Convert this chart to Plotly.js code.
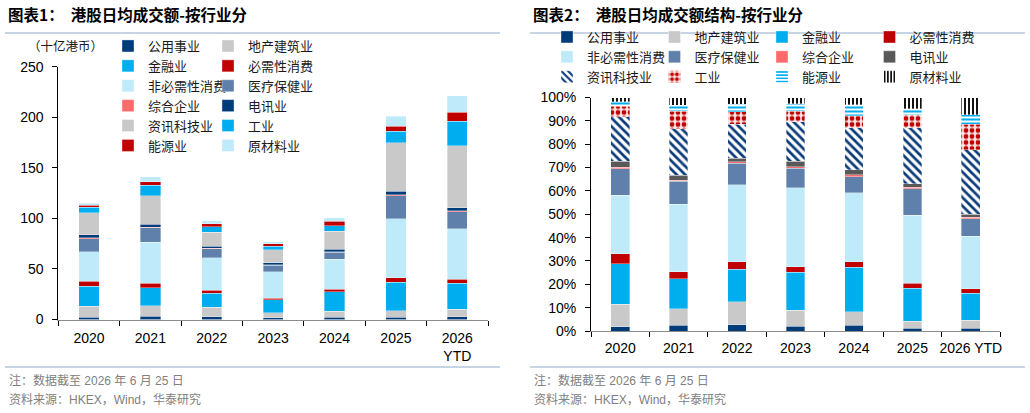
<!DOCTYPE html>
<html>
<head>
<meta charset="utf-8">
<script src="https://cdn.plot.ly/plotly-3.0.1.min.js"></script>
<style>
  html, body { margin: 0; padding: 0; background: #fff; }
  #wrap { position: relative; width: 1030px; height: 413px; overflow: hidden; }
  #left { position: absolute; left: 0; top: 0; width: 515px; height: 413px; }
  #right { position: absolute; left: 515px; top: 0; width: 515px; height: 413px; }
</style>
</head>
<body>
<div id="wrap"><div id="left"></div><div id="right"></div></div>
<script>
// Hong Kong equities: average daily turnover by sector (HKD bn)
const yearsLeft = ['2020', '2021', '2022', '2023', '2024', '2025', '2026<br>YTD'];
const yearsRight = ['2020', '2021', '2022', '2023', '2024', '2025', '2026 YTD'];

const sectorNames = ['公用事业', '地产建筑业', '金融业', '必需性消费', '非必需性消费', '医疗保健业',
                     '综合企业', '电讯业', '资讯科技业', '工业', '能源业', '原材料业'];

const utilities         = [2.0, 3.4, 2.6, 1.6, 2.4, 2.3, 2.7];
const property          = [11.2, 10.1, 9.6, 5.2, 5.8, 6.3, 7.5];
const financials        = [19.9, 18.0, 13.6, 12.6, 19.2, 28.0, 25.8];
const consumerStaples   = [4.9, 4.3, 3.2, 1.8, 2.4, 4.6, 3.9];
const consumerDiscret   = [29.0, 40.7, 32.1, 26.0, 29.6, 58.4, 49.7];
const healthcare        = [12.9, 14.0, 9.0, 6.4, 7.1, 22.7, 16.8];
const conglomerates     = [0.9, 0.7, 0.6, 0.5, 0.7, 1.2, 1.3];
const telecom           = [2.8, 2.9, 1.5, 1.9, 2.3, 3.1, 2.9];
const infoTech          = [22.0, 28.3, 14.2, 13.0, 18.0, 48.1, 61.1];
const industrials       = [5.3, 10.6, 5.3, 3.4, 5.2, 11.3, 24.2];
const energy            = [2.0, 3.4, 3.0, 2.6, 4.6, 5.2, 8.9];
const materials         = [2.2, 4.8, 2.9, 2.0, 3.2, 9.7, 16.4];

const seriesValues = [utilities, property, financials, consumerStaples, consumerDiscret, healthcare,
                      conglomerates, telecom, infoTech, industrials, energy, materials];

const leftTicks = [0, 50, 100, 150, 200, 250];
const rightTicks = [0, 10, 20, 30, 40, 50, 60, 70, 80, 90, 100];
const rightTickText = ['0%', '10%', '20%', '30%', '40%', '50%', '60%', '70%', '80%', '90%', '100%'];

// styling
const NAVY = '#003b7a', GREY = '#c9c9c9', CYAN = '#00adef', RED = '#c00000',
      PALE = '#bfeaf9', STEEL = '#5f80aa', SALMON = '#ff6b6b', DARK = '#595959';
const leftColors = [NAVY, GREY, CYAN, RED, PALE, STEEL, SALMON, NAVY, GREY, CYAN, RED, PALE];
const rightColors = [NAVY, GREY, CYAN, RED, PALE, STEEL, SALMON, DARK, '#0b3b7a', RED, CYAN, '#111111'];
const rightPatterns = {
  8:  {shape: '\\', bgcolor: '#ffffff', size: 6, solidity: 0.45},
  9:  {shape: '.',  bgcolor: '#fbe3e3', size: 6, solidity: 0.5},
  10: {shape: '-',  bgcolor: '#ffffff', size: 4, solidity: 0.5},
  11: {shape: '|',  bgcolor: '#ffffff', size: 4, solidity: 0.5}
};

const LATIN = '"Liberation Sans", Arial, "Noto Sans CJK SC", sans-serif';
const CJK = '"Noto Sans CJK SC", "Liberation Sans", sans-serif';
const RULE = '#8fa9c9';
const H = 413, W = 515;
const py = v => 1 - v / H;
const px = v => v / W;

const leftTraces = seriesValues.map((vals, i) => ({
  type: 'bar', name: sectorNames[i], x: yearsLeft, y: vals,
  marker: {color: leftColors[i], line: {color: 'rgba(255,255,255,0.7)', width: 0.5}},
  legend: i % 2 === 0 ? 'legend' : 'legend2',
  hoverinfo: 'skip'
}));

const rightTraces = seriesValues.map((vals, i) => {
  const marker = {color: rightColors[i], line: {color: 'rgba(255,255,255,0.7)', width: 0.5}};
  if (rightPatterns[i]) marker.pattern = rightPatterns[i];
  return {
    type: 'bar', name: sectorNames[i], x: yearsRight, y: vals, marker,
    legend: ['legend', 'legend2', 'legend3', 'legend4'][i % 4],
    hoverinfo: 'skip'
  };
});

function legendAt(x, yTop, size) {
  return {x: x, y: yTop, xanchor: 'left', yanchor: 'top', orientation: 'v', traceorder: 'normal',
          bgcolor: 'rgba(0,0,0,0)', borderwidth: 0, font: {family: CJK, size: size, color: '#1a1a1a'}};
}

function frame(title) {
  return {
    annotations: [
      {text: title, xref: 'paper', yref: 'paper', x: px(6), y: py(14), xanchor: 'left', yanchor: 'middle',
       showarrow: false, font: {family: CJK, size: 15.5, color: '#000', weight: 'bold'}},
      {text: '注：数据截至 2026 年 6 月 25 日', xref: 'paper', yref: 'paper', x: px(7), y: py(380),
       xanchor: 'left', yanchor: 'middle', showarrow: false, font: {family: LATIN, size: 12, color: '#808080'}},
      {text: '资料来源：HKEX，Wind，华泰研究', xref: 'paper', yref: 'paper', x: px(7), y: py(399),
       xanchor: 'left', yanchor: 'middle', showarrow: false, font: {family: LATIN, size: 12, color: '#808080'}}
    ],
    shapes: [
      {type: 'line', xref: 'paper', yref: 'paper', x0: px(5), x1: px(500), y0: py(33), y1: py(33),
       line: {color: RULE, width: 1.2}},
      {type: 'line', xref: 'paper', yref: 'paper', x0: px(5), x1: px(500), y0: py(367), y1: py(367),
       line: {color: RULE, width: 1.2}}
    ]
  };
}

const axisCommon = {
  showgrid: false, zeroline: false, showline: true, ticks: 'outside', ticklen: 5, tickwidth: 1,
  tickcolor: '#000', tickfont: {family: LATIN, size: 14, color: '#000'}, fixedrange: true
};

// left panel: absolute turnover
const leftFrame = frame('图表1：  港股日均成交额-按行业分');
leftFrame.annotations.push({
  text: '（十亿港币）', xref: 'paper', yref: 'paper', x: px(65), y: py(45), xanchor: 'center', yanchor: 'middle',
  showarrow: false, font: {family: CJK, size: 12.5, color: '#1a1a1a'}
});
const leftLayout = Object.assign({
  width: W, height: H, margin: {l: 0, r: 0, t: 0, b: 0},
  paper_bgcolor: '#fff', plot_bgcolor: 'rgba(0,0,0,0)',
  font: {family: LATIN, size: 14, color: '#000'},
  barmode: 'stack', bargap: 0.67, showlegend: true, hovermode: false,
  xaxis: Object.assign({}, axisCommon, {
    domain: [px(58.3), px(488)], type: 'category', tickson: 'boundaries', tickangle: 0,
    linecolor: '#8c8c8c', linewidth: 1.2, ticklabelstandoff: 5
  }),
  yaxis: Object.assign({}, axisCommon, {
    domain: [py(319.5), py(66.7)], range: [0, 250], tickmode: 'array', tickvals: leftTicks,
    linecolor: '#000', linewidth: 1, ticklabelstandoff: 6
  }),
  legend: legendAt(px(108), py(31), 13),
  legend2: legendAt(px(208), py(31), 13)
}, leftFrame);

// right panel: share of turnover
const rightFrame = frame('图表2：  港股日均成交额结构-按行业分');
rightFrame.shapes.forEach(s => { s.x0 = px(15); s.x1 = px(510); });
rightFrame.annotations.forEach(a => { a.x = a.x + px(10); });
const rightLayout = Object.assign({
  width: W, height: H, margin: {l: 0, r: 0, t: 0, b: 0},
  paper_bgcolor: '#fff', plot_bgcolor: 'rgba(0,0,0,0)',
  font: {family: LATIN, size: 14, color: '#000'},
  barmode: 'stack', barnorm: 'percent', bargap: 0.68, showlegend: true, hovermode: false,
  xaxis: Object.assign({}, axisCommon, {
    domain: [px(76), px(485)], type: 'category', tickson: 'boundaries', tickangle: 0,
    linecolor: '#8c8c8c', linewidth: 1.2, ticklabelstandoff: 4
  }),
  yaxis: Object.assign({}, axisCommon, {
    domain: [py(331), py(97.5)], range: [0, 100], tickmode: 'array', tickvals: rightTicks,
    ticktext: rightTickText, linecolor: '#000', linewidth: 1, ticklabelstandoff: 6
  }),
  legend: legendAt(px(32), py(22), 13),
  legend2: legendAt(px(139.5), py(22), 13),
  legend3: legendAt(px(247), py(22), 13),
  legend4: legendAt(px(354.5), py(22), 13)
}, rightFrame);

const config = {staticPlot: true, displayModeBar: false};
Plotly.newPlot('left', leftTraces, leftLayout, config);
Plotly.newPlot('right', rightTraces, rightLayout, config);
</script>
</body>
</html>
